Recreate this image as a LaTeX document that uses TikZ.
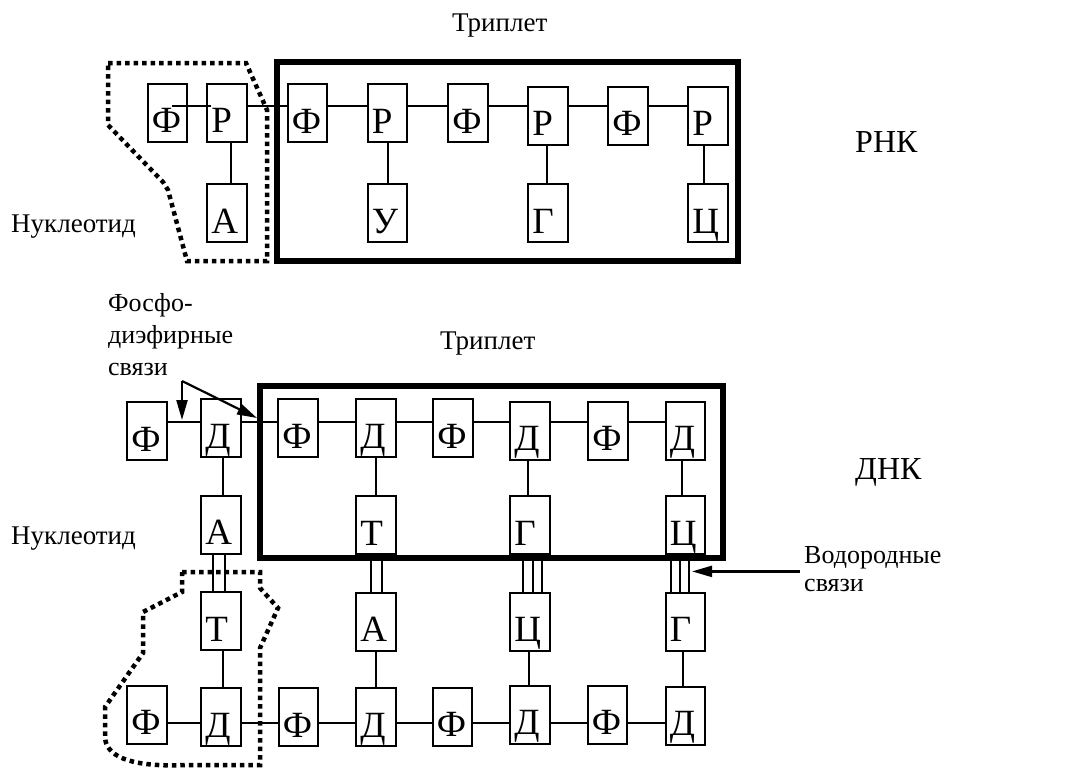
\documentclass[tikz,border=0pt]{standalone}
\usepackage{fontspec}
\setmainfont{Liberation Serif}
\usetikzlibrary{arrows.meta,calc}
\begin{document}
\begin{tikzpicture}[x=1pt,y=-1pt,
  bx/.style={draw,line width=2pt,rectangle,inner xsep=4pt,inner ysep=0pt,
    text width=31.5pt,align=left,text height=49pt,text depth=9pt,
    font=\fontsize{37}{37}\selectfont},
  ln/.style={line width=2pt},
  tripframe/.style={draw,line width=6pt,inner sep=0pt},
  dots/.style={line width=4.5pt,dash pattern=on 4.5pt off 4pt},
  lbl/.style={inner sep=0pt,font=\fontsize{27}{28}\selectfont},
  big/.style={inner sep=0pt,font=\fontsize{32}{32}\selectfont},
  arr/.style={line width=2.2pt,-{Triangle[length=20pt,width=11pt]}}]
\useasboundingbox (0,0) rectangle (1089,771);
\fill[white] (0,0) rectangle (1089,771);

% ---------- labels ----------
\node[lbl,anchor=base west] (trip1) at (452,31) {Триплет};
\node[lbl,anchor=base west] (nuc1) at (11,232) {Нуклеотид};
\node[big,anchor=base west] (rna) at (855,152) {РНК};
\node[lbl,anchor=north west,align=left,font=\fontsize{26}{32}\selectfont] (fosfo) at (108,288.6)
  {\strut Фосфо-\\\strut диэфирные\\\strut связи};
\node[lbl,anchor=base west] (trip2) at (440,349) {Триплет};
\node[big,anchor=base west] (dna) at (855,479) {ДНК};
\node[lbl,anchor=base west] (nuc2) at (11,544) {Нуклеотид};
\node[lbl,anchor=west,align=left,inner xsep=4pt,font=\fontsize{26}{28}\selectfont] (hyd) at (800,571.4)
  {\strut Водородные\\\strut связи};

% ---------- RNA ----------
\node[tripframe,minimum width=461pt,minimum height=199pt] (fr1) at (507.5,161.5) {};
\node[bx] (f0) at (167.5,112.5) {Ф};
\node[bx] (r0) at (227,112.5) {Р};
\node[bx] (a0) at (227,213) {А};
\node[bx] (f1) at (307.5,113) {Ф};
\node[bx] (r1) at (387.5,113) {Р};
\node[bx] (u1) at (387.5,213) {У};
\node[bx] (f2) at (468,113) {Ф};
\node[bx] (r2) at (548,115.5) {Р};
\node[bx] (g2) at (548,213) {Г};
\node[bx] (f3) at (628,115.5) {Ф};
\node[bx] (r3) at (708,115.5) {Р};
\node[bx] (c3) at (708,213) {Ц};

\coordinate (ly1) at (0,106);
\draw[ln] ($(f0.center |- ly1)+(4.5,0)$) -- ($(r0.west |- ly1)+(5,0)$);
\draw[ln] (r0.east |- ly1) -- (f1.west |- ly1);
\draw[ln] (f1.east |- ly1) -- (r1.west |- ly1);
\draw[ln] (r1.east |- ly1) -- (f2.west |- ly1);
\draw[ln] (f2.east |- ly1) -- (r2.west |- ly1);
\draw[ln] (r2.east |- ly1) -- (f3.west |- ly1);
\draw[ln] (f3.east |- ly1) -- (r3.west |- ly1);
\draw[ln] ([xshift=4pt]r0.south) -- ([xshift=4pt]a0.north);
\draw[ln] (r1.south) -- (u1.north);
\draw[ln] ([xshift=-1pt]r2.south) -- ([xshift=-1pt]g2.north);
\draw[ln] ([xshift=-4pt]r3.south) -- ([xshift=-4pt]c3.north);

\draw[dots] (108,63) -- (246,63) -- (267,110) -- (267,261) -- (187,261)
  -- (168,190) -- (163,182) -- (108,125) -- cycle;

% ---------- DNA ----------
\node[tripframe,minimum width=463pt,minimum height=172pt] (fr2) at (491.5,472) {};
\node[bx] (df0) at (147,431) {Ф};
\node[bx] (dd0) at (221,428) {Д};
\node[bx] (df1) at (298,428) {Ф};
\node[bx] (dd1) at (376,428) {Д};
\node[bx] (df2) at (453,428) {Ф};
\node[bx] (dd2) at (530,430.5) {Д};
\node[bx] (df3) at (608,430.5) {Ф};
\node[bx] (dd3) at (685.5,430.5) {Д};

\node[bx] (b0) at (221,524.5) {А};
\node[bx] (b1) at (376,525) {Т};
\node[bx] (b2) at (530,525) {Г};
\node[bx] (b3) at (685.5,525) {Ц};

\node[bx] (c0) at (221,621) {Т};
\node[bx] (c1) at (376,621.5) {А};
\node[bx] (c2) at (530,621.5) {Ц};
\node[bx] (c3b) at (685.5,621.5) {Г};

\node[bx] (ef0) at (147,714.5) {Ф};
\node[bx] (ed0) at (221,717) {Д};
\node[bx] (ef1) at (298.5,717) {Ф};
\node[bx] (ed1) at (376,717) {Д};
\node[bx] (ef2) at (452.5,716.5) {Ф};
\node[bx] (ed2) at (530,714.5) {Д};
\node[bx] (ef3) at (607.5,714.5) {Ф};
\node[bx] (ed3) at (685.5,715.5) {Д};

\coordinate (ly2) at (0,422);
\draw[ln] (df0.east |- ly2) -- (dd0.west |- ly2);
\draw[ln] (dd0.east |- ly2) -- (df1.west |- ly2);
\draw[ln] (df1.east |- ly2) -- (dd1.west |- ly2);
\draw[ln] (dd1.east |- ly2) -- (df2.west |- ly2);
\draw[ln] (df2.east |- ly2) -- (dd2.west |- ly2);
\draw[ln] (dd2.east |- ly2) -- (df3.west |- ly2);
\draw[ln] (df3.east |- ly2) -- (dd3.west |- ly2);

\coordinate (ly3) at (0,723);
\draw[ln] (ef0.east |- ly3) -- (ed0.west |- ly3);
\draw[ln] (ed0.east |- ly3) -- (ef1.west |- ly3);
\draw[ln] (ef1.east |- ly3) -- (ed1.west |- ly3);
\draw[ln] (ed1.east |- ly3) -- (ef2.west |- ly3);
\draw[ln] (ef2.east |- ly3) -- (ed2.west |- ly3);
\draw[ln] (ed2.east |- ly3) -- (ef3.west |- ly3);
\draw[ln] (ef3.east |- ly3) -- (ed3.west |- ly3);

\draw[ln] ([xshift=2pt]dd0.south) -- ([xshift=2pt]b0.north);
\draw[ln] (dd1.south) -- (b1.north);
\draw[ln] ([xshift=-2pt]dd2.south) -- ([xshift=-2pt]b2.north);
\draw[ln] ([xshift=-4pt]dd3.south) -- ([xshift=-4pt]b3.north);
\draw[ln] ([xshift=2pt]c0.south) -- ([xshift=2pt]ed0.north);
\draw[ln] (c1.south) -- (ed1.north);
\draw[ln] ([xshift=-1pt]c2.south) -- ([xshift=-1pt]ed2.north);
\draw[ln] ([xshift=-3pt]c3b.south) -- ([xshift=-3pt]ed3.north);

% hydrogen bonds
\foreach \o in {-8,4} \draw[ln] ([xshift=\o pt]b0.south) -- ([xshift=\o pt]c0.north);
\foreach \o in {-5,6} \draw[ln] ([xshift=\o pt]b1.south) -- ([xshift=\o pt]c1.north);
\foreach \o in {-7,2.5,12} \draw[ln] ([xshift=\o pt]b2.south) -- ([xshift=\o pt]c2.north);
\foreach \o in {-14.5,-5.5,3.5} \draw[ln] ([xshift=\o pt]b3.south) -- ([xshift=\o pt]c3b.north);

\draw[dots] (182,572) -- (260,572) -- (260,588) -- (278,608) -- (260,648) -- (260,765)
  -- (185,765) .. controls (140,767) and (107,760) .. (105,738) -- (105,707)
  -- (143,653) -- (143,612) -- (182,592) -- cycle;

% arrows
\coordinate (fsrc) at (182,381);
\coordinate (ftip1) at (182,420);
\coordinate (ftip2) at (257,418);
\draw[arr] (fsrc) -- (ftip1);
\draw[arr] (fsrc) -- (ftip2);
\coordinate (htip) at (692,571.4);
\draw[arr] (hyd.west) -- (htip);
\end{tikzpicture}
\end{document}
